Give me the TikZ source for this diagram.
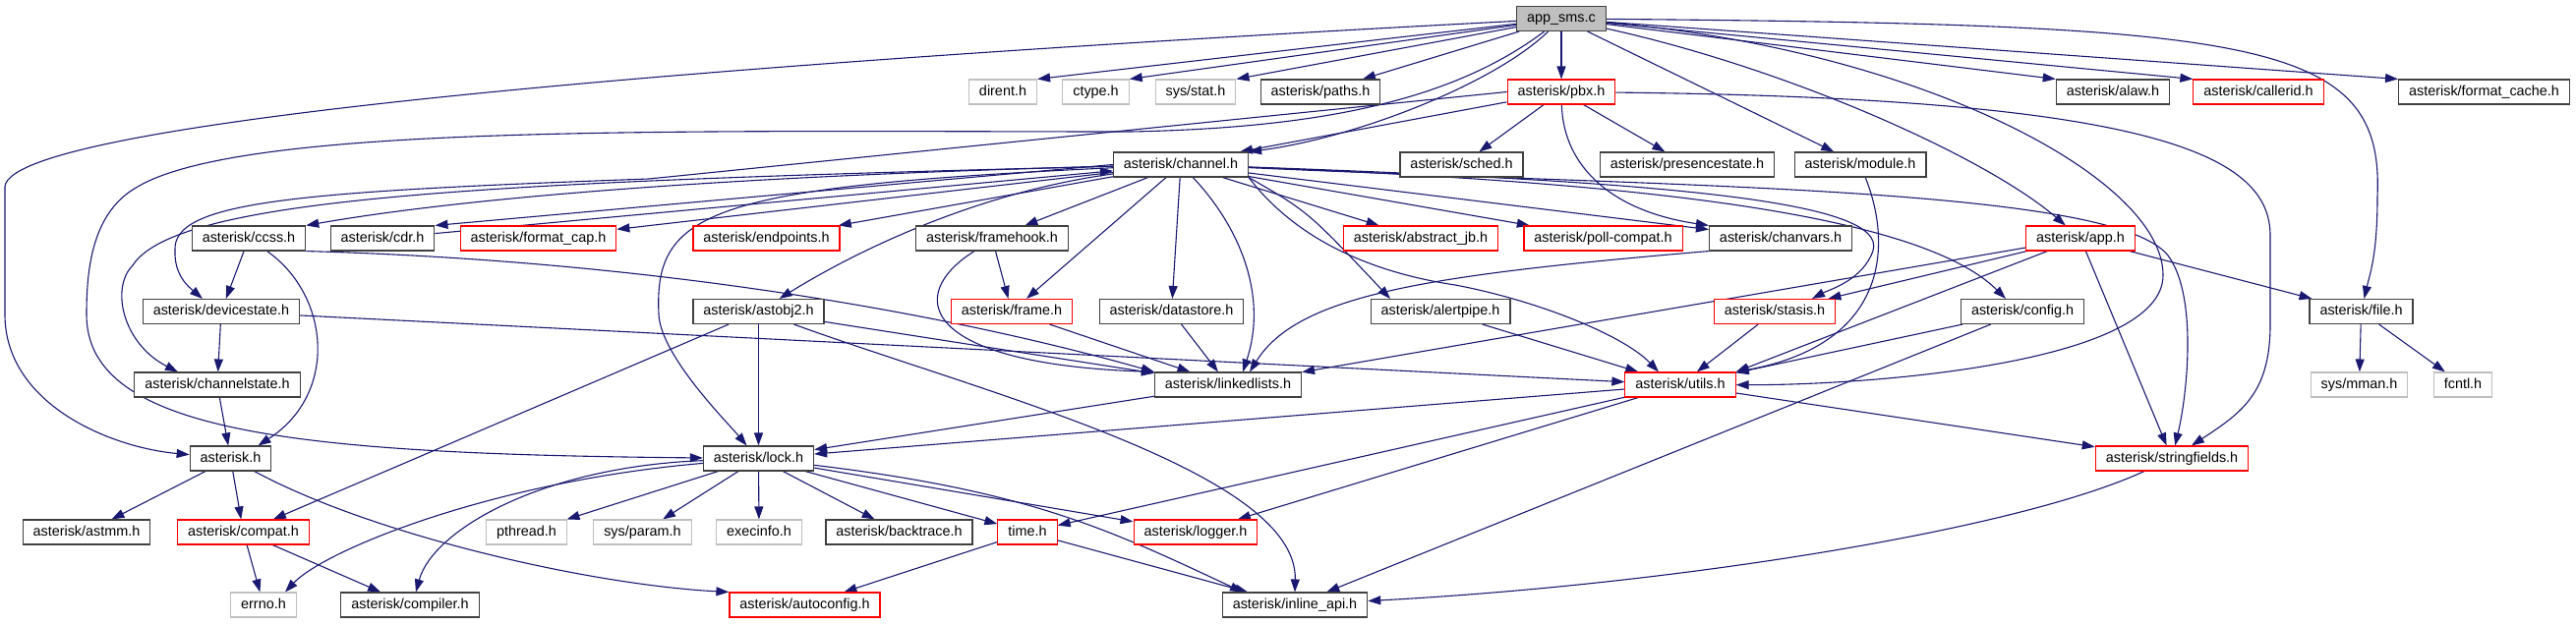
\documentclass[tikz,border=0pt]{standalone}
\usepackage{fontspec}
\setmainfont{Liberation Sans}
\usepackage{tikz}
\usetikzlibrary{arrows.meta,backgrounds}
\definecolor{edgeblue}{RGB}{25,25,112}
\definecolor{boxgrey}{RGB}{191,191,191}
\definecolor{boxdark}{RGB}{64,64,64}

\begin{document}
\begin{tikzpicture}[
    x=1pt, y=-1pt,
    hdr/.style={draw=boxdark, fill=white, line width=1.1pt, minimum height=25pt,
        inner xsep=10.5pt, inner ysep=0pt, text height=10.5pt, text depth=3pt,
        font=\fontsize{14.4}{16}\selectfont},
    hdrred/.style={hdr, draw=red},
    hdrsys/.style={hdr, draw=boxgrey},
    hdrroot/.style={hdr, fill=boxgrey},
    edge/.style={draw=edgeblue, line width=1.1pt, -{Triangle[length=13pt,width=9pt]}}
]
\useasboundingbox (0,0) rectangle (2620,635);

% Root file
\node[hdrroot] (app) at (1588,19) {app\_sms.c};

% Row 1
\node[hdrsys] (dirent) at (1020,93.5) {dirent.h};
\node[hdrsys] (ctype) at (1114.5,93.5) {ctype.h};
\node[hdrsys] (sysstat) at (1216,93.5) {sys/stat.h};
\node[hdr] (paths) at (1343,93.5) {asterisk/paths.h};
\node[hdrred] (pbx) at (1588,93.5) {asterisk/pbx.h};
\node[hdr] (alaw) at (2149,93.5) {asterisk/alaw.h};
\node[hdrred] (callerid) at (2297,93.5) {asterisk/callerid.h};
\node[hdr] (fmtcache) at (2526.5,93.5) {asterisk/format\_cache.h};

% Row 2
\node[hdr] (channel) at (1201,167.5) {asterisk/channel.h};
\node[hdr] (sched) at (1486.5,167.5) {asterisk/sched.h};
\node[hdr] (presence) at (1716,167.5) {asterisk/presencestate.h};
\node[hdr] (module) at (1892,167.5) {asterisk/module.h};

% Row 3
\node[hdr] (ccss) at (253,242.5) {asterisk/ccss.h};
\node[hdr] (cdr) at (389,242.5) {asterisk/cdr.h};
\node[hdrred] (fmtcap) at (547.5,242.5) {asterisk/format\_cap.h};
\node[hdrred] (endpoints) at (779.5,242.5) {asterisk/endpoints.h};
\node[hdr] (framehook) at (1009,242.5) {asterisk/framehook.h};
\node[hdrred] (abstractjb) at (1445,242.5) {asterisk/abstract\_jb.h};
\node[hdrred] (pollcompat) at (1630.5,242.5) {asterisk/poll-compat.h};
\node[hdr] (chanvars) at (1811,242.5) {asterisk/chanvars.h};
\node[hdrred] (apph) at (2116,242.5) {asterisk/app.h};

% Row 4
\node[hdr] (devstate) at (225,317) {asterisk/devicestate.h};
\node[hdr] (astobj) at (771.5,317) {asterisk/astobj2.h};
\node[hdrred] (frame) at (1029,317) {asterisk/frame.h};
\node[hdr] (datastore) at (1191.5,317) {asterisk/datastore.h};
\node[hdr] (alertpipe) at (1465,317) {asterisk/alertpipe.h};
\node[hdrred] (stasis) at (1805,317) {asterisk/stasis.h};
\node[hdr] (config) at (2057,317) {asterisk/config.h};
\node[hdr] (file) at (2401.5,317) {asterisk/file.h};

% Row 5
\node[hdr] (chanstate) at (221,391.5) {asterisk/channelstate.h};
\node[hdr] (linkedlists) at (1249,391.5) {asterisk/linkedlists.h};
\node[hdrred] (utils) at (1709,391.5) {asterisk/utils.h};
\node[hdrsys] (mman) at (2399.5,391.5) {sys/mman.h};
\node[hdrsys] (fcntl) at (2505,391.5) {fcntl.h};

% Row 6
\node[hdr] (asteriskh) at (234.5,466.5) {asterisk.h};
\node[hdr] (lock) at (771.5,466.5) {asterisk/lock.h};
\node[hdrred] (strfields) at (2209,466.5) {asterisk/stringfields.h};

% Row 7
\node[hdr] (astmm) at (88,541.5) {asterisk/astmm.h};
\node[hdrred] (compat) at (247.5,541.5) {asterisk/compat.h};
\node[hdrsys] (pthread) at (535.5,541.5) {pthread.h};
\node[hdrsys] (sysparam) at (653.5,541.5) {sys/param.h};
\node[hdrsys] (execinfo) at (772,541.5) {execinfo.h};
\node[hdr] (backtrace) at (914.5,541.5) {asterisk/backtrace.h};
\node[hdrred] (timeh) at (1045,541.5) {time.h};
\node[hdrred] (logger) at (1216,541.5) {asterisk/logger.h};

% Row 8
\node[hdrsys] (errno) at (268,615.5) {errno.h};
\node[hdr] (compiler) at (417,615.5) {asterisk/compiler.h};
\node[hdrred] (autoconfig) at (818.5,615.5) {asterisk/autoconfig.h};
\node[hdr] (inlineapi) at (1317,615.5) {asterisk/inline\_api.h};

\begin{scope}[on background layer]
% app_sms.c includes
\draw[edge] (app) -- (dirent.north east);
\draw[edge] (app) -- (ctype.north east);
\draw[edge] (app) -- (sysstat.north east);
\draw[edge] (app) -- (paths);
\draw[edge] (app) -- (pbx);
\draw[edge] (app) -- (alaw.north west);
\draw[edge] (app) -- (callerid.north west);
\draw[edge] (app) -- (fmtcache.north west);
\draw[edge] (app) -- (module);
\draw[edge] (app) .. controls (1820,70) and (2020,160) .. (apph);
\draw[edge] (app) .. controls (2300,25) and (2425,40) .. (2418,200)
    .. controls (2418,260) and (2410,280) .. (file);
\draw[edge] (app) .. controls (1950,50) and (2200,180) .. (2200,280)
    .. controls (2200,370) and (1900,392) .. (utils);
\draw[edge] (app) .. controls (800,60) and (10,120) .. (5,190) -- (5,320)
    .. controls (5,410) and (110,455) .. (asteriskh);
\draw[edge] (app) .. controls (1480,100) and (1350,130) .. (1150,134)
    .. controls (700,134) and (250,125) .. (140,190)
    .. controls (95,215) and (88,270) .. (88,320)
    .. controls (88,440) and (300,462) .. (lock);
\draw[edge] (app) .. controls (1520,85) and (1380,140) .. (channel.north east);

% pbx.h
\draw[edge] (pbx) -- (sched);
\draw[edge] (pbx) -- (presence);
\draw[edge] (pbx) -- ([xshift=-9pt]channel.north east);
\draw[edge] (pbx) .. controls (1590,170) and (1640,215) .. (chanvars.north west);
\draw[edge] (pbx) .. controls (2200,100) and (2309,160) .. (2309,240) -- (2309,330)
    .. controls (2309,400) and (2280,420) .. (strfields);
\draw[edge] (pbx.west) -- (660,182) .. controls (300,195) and (175,205) .. (178,255)
    .. controls (177,280) and (192,292) .. ([xshift=-19pt]devstate.north);

% channel.h
\draw[edge] (channel) .. controls (500,185) and (180,200) .. (135,270)
    .. controls (112,293) and (125,350) .. ([xshift=-40pt]chanstate.north);
\draw[edge] (channel) .. controls (700,180) and (450,205) .. (ccss.north east);
\draw[edge] (channel.west) -- (cdr.north east);
\draw[edge] (cdr) -- (channel);
\draw[edge] (channel) -- (fmtcap);
\draw[edge] (channel) -- (endpoints);
\draw[edge] (channel) .. controls (720,190) and (665,215) .. (670,320)
    .. controls (672,362) and (740,430) .. ([xshift=-12pt]lock.north);
\draw[edge] (channel) .. controls (1000,195) and (880,250) .. (astobj);
\draw[edge] (channel) -- (framehook);
\draw[edge] (channel) -- (frame);
\draw[edge] (channel) -- (datastore);
\draw[edge] (channel) .. controls (1260,230) and (1290,300) .. ([xshift=15pt]linkedlists.north);
\draw[edge] (channel.south east) .. controls (1330,215) .. ([xshift=-51pt]alertpipe.north);
\draw[edge] (channel) -- (abstractjb);
\draw[edge] (channel) -- (pollcompat);
\draw[edge] (channel) -- (chanvars);
\draw[edge] (channel) .. controls (1700,185) and (1920,205) .. (1905,255)
    .. controls (1895,285) and (1860,295) .. ([xshift=38pt]stasis.north);
\draw[edge] (channel.south east) .. controls (1300,220) and (1360,272) .. (1480,290)
    .. controls (1560,305) and (1650,340) .. ([xshift=-22pt]utils.north);
\draw[edge] (channel) .. controls (1650,185) and (1950,215) .. ([xshift=-17pt]config.north);
\draw[edge] (channel) .. controls (1700,190) and (2150,190) .. (2205,260)
    .. controls (2235,300) and (2225,400) .. (strfields);

% ccss.h, devicestate.h, channelstate.h, asterisk.h
\draw[edge] (ccss) -- (devstate);
\draw[edge] (ccss) .. controls (335,300) and (345,400) .. ([xshift=28pt]asteriskh.north);
\draw[edge] (ccss.south east) .. controls (650,265) and (950,315) .. (linkedlists.north west);
\draw[edge] (devstate) -- (chanstate);
\draw[edge] (devstate) -- (utils);
\draw[edge] (chanstate) -- (asteriskh);
\draw[edge] (asteriskh) -- (astmm);
\draw[edge] (asteriskh) -- (compat);
\draw[edge] (asteriskh) .. controls (380,545) and (600,595) .. (autoconfig.north west);
\draw[edge] (compat) -- (errno);
\draw[edge] (compat) -- (compiler);

% astobj2.h
\draw[edge] (astobj) -- (compat);
\draw[edge] (astobj) -- (lock);
\draw[edge] (astobj) -- (linkedlists);
\draw[edge] (astobj) .. controls (1000,400) and (1320,480) .. (inlineapi.north);

% lock.h
\draw[edge] (lock) -- (pthread);
\draw[edge] (lock) -- (sysparam);
\draw[edge] (lock) -- (execinfo);
\draw[edge] (lock) -- (backtrace);
\draw[edge] (lock) -- (timeh);
\draw[edge] (lock) -- (logger);
\draw[edge] (lock) .. controls (1050,500) and (1130,540) .. ([xshift=-53pt]inlineapi.north);
\draw[edge] (lock) .. controls (500,490) and (330,560) .. ([xshift=22pt]errno.north);
\draw[edge] (lock) .. controls (550,475) and (440,540) .. ([xshift=6pt]compiler.north);
\draw[edge] (timeh) -- (autoconfig);
\draw[edge] (timeh) -- (inlineapi);

% linkedlists.h, utils.h, stringfields.h
\draw[edge] (linkedlists) -- (lock);
\draw[edge] (utils) -- (lock);
\draw[edge] (utils) -- (timeh);
\draw[edge] (utils) -- (logger);
\draw[edge] (utils) -- (strfields);
\draw[edge] (strfields) .. controls (2050,540) and (1700,595) .. (inlineapi);

% config.h, app.h, file.h
\draw[edge] (config) -- (utils);
\draw[edge] (config) -- (inlineapi);
\draw[edge] (apph) -- (file);
\draw[edge] (apph) -- (strfields);
\draw[edge] (apph) -- (linkedlists);
\draw[edge] (apph) -- (stasis);
\draw[edge] (apph) -- (utils.north east);
\draw[edge] (file) -- (mman);
\draw[edge] (file) -- (fcntl);

% remaining headers
\draw[edge] (stasis) -- (utils);
\draw[edge] (alertpipe) -- (utils);
\draw[edge] (module) .. controls (1925,250) and (1920,350) .. (utils.north east);
\draw[edge] (chanvars.south west) .. controls (1450,280) and (1320,300) .. ([xshift=22pt]linkedlists.north);
\draw[edge] (frame) -- (linkedlists);
\draw[edge] (framehook) -- (frame);
\draw[edge] ([xshift=-18pt]framehook.south) .. controls (920,300) and (935,370) .. (linkedlists.north west);
\draw[edge] (datastore) -- (linkedlists);
\end{scope}
\end{tikzpicture}
\end{document}
